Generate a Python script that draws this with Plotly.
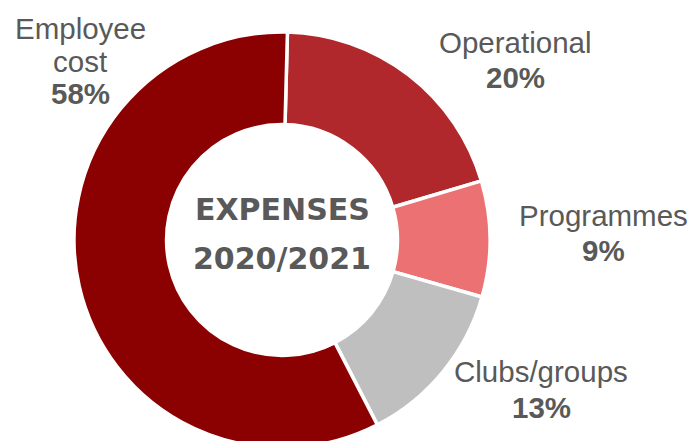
import plotly.graph_objects as go

# Expense breakdown for the 2020/2021 year (percent of total)
categories = ["Operational", "Programmes", "Clubs/groups", "Employee cost"]
shares = [20, 9, 13, 58]
label_lines = [["Operational"], ["Programmes"], ["Clubs/groups"], ["Employee", "cost"]]
center_title = ["EXPENSES", "2020/2021"]

slice_colors = ["#B0282B", "#EC7173", "#BFBFBF", "#8B0000"]
text_gray = "#595959"

W, H = 697, 480
cx, cy, r = 282, 240, 208  # donut centre and radius in pixels

fig = go.Figure(
    go.Pie(
        labels=categories,
        values=shares,
        sort=False,
        direction="clockwise",
        rotation=1.5,
        hole=0.555,
        textinfo="none",
        hoverinfo="label+percent",
        marker=dict(colors=slice_colors, line=dict(color="white", width=3.5)),
        domain=dict(x=[(cx - r) / W, (cx + r) / W],
                    y=[(H - cy - r) / H, (H - cy + r) / H]),
    )
)


def put_text(px, py, text, size, family, bold=False):
    fig.add_annotation(
        x=px / W, y=1 - py / H, xref="paper", yref="paper",
        text=f"<b>{text}</b>" if bold else text, showarrow=False,
        xanchor="center", yanchor="middle", align="center",
        font=dict(family=family, size=size, color=text_gray),
    )


# outside labels: (x centre, y of first line, line step) in pixels
label_pos = [(515, 42, 35), (603, 215, 35), (541, 371, 36), (80, 28, 33)]
label_font = "Liberation Sans, Arial"
for lines, val, (px, py, step) in zip(label_lines, shares, label_pos):
    for i, line in enumerate(lines):
        put_text(px, py + i * step, line, 29.5, label_font)
    put_text(px, py + len(lines) * step, f"{val}%", 29.5, label_font, bold=True)

# centre title
for i, t in enumerate(center_title):
    put_text(cx, 209 + i * 49, t, 30, "DejaVu Sans", bold=True)

fig.update_layout(
    width=W, height=H,
    margin=dict(l=0, r=0, t=0, b=0),
    paper_bgcolor="white", plot_bgcolor="white",
    showlegend=False,
)

fig.write_html(
    "out.html",
    post_script="document.documentElement.style.overflow='hidden';"
                "document.body.style.overflow='hidden';document.body.style.margin='0';",
)
